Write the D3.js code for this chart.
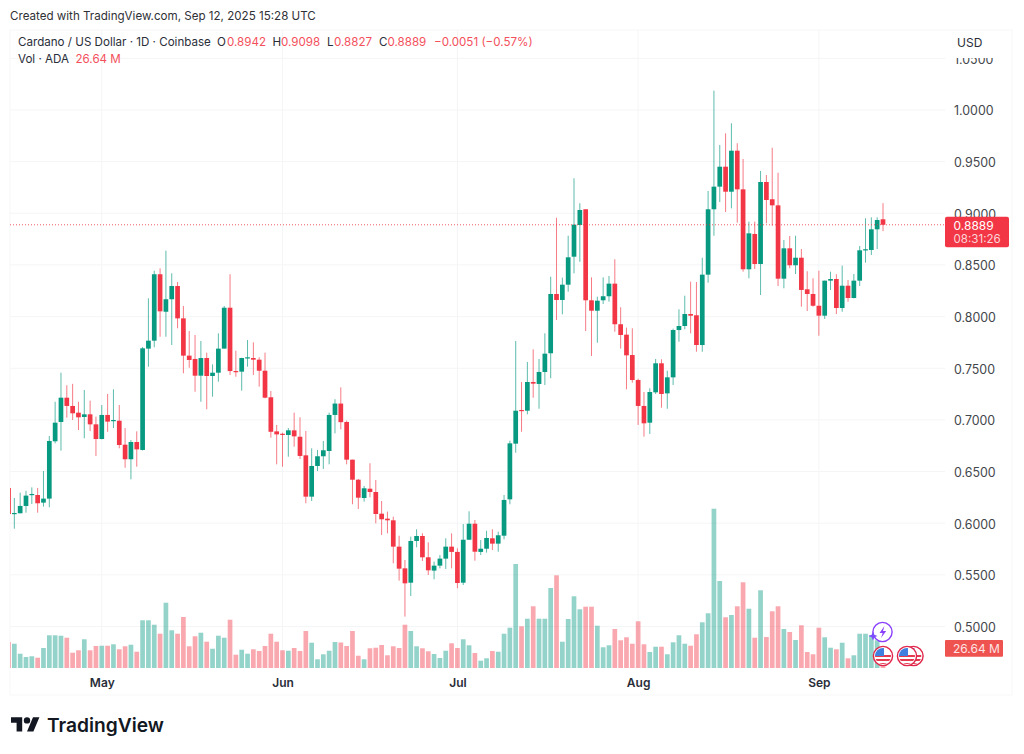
<!DOCTYPE html>
<html><head><meta charset="utf-8">
<script src="https://cdn.jsdelivr.net/npm/d3@7"></script>
<style>html,body{margin:0;padding:0;background:#fff}svg{display:block}text{font-family:Inter,"Noto Sans",sans-serif}</style>
</head><body><svg id="c" width="1024" height="754"></svg>
<script>
const opens=[.6341,.6089,.6096,.6167,.6273,.6273,.6199,.6238,.6793,.6980,.7215,.7135,.7070,.7028,.7054,.6957,.6815,.7048,.6989,.6992,.6760,.6619,.6786,.6709,.7690,.7767,.8410,.8047,.8168,.8296,.7983,.7622,.7590,.7428,.7599,.7425,.7457,.7690,.8086,.7473,.7467,.7596,.7599,.7583,.7476,.7219,.6889,.6866,.6854,.6899,.6837,.6657,.6257,.6554,.6648,.6699,.7048,.7158,.6980,.6615,.6421,.6244,.6334,.6302,.6092,.6044,.6028,.5773,.5563,.5424,.5828,.5876,.5670,.5541,.5589,.5657,.5773,.5722,.5424,.5840,.5995,.5722,.5753,.5854,.5802,.5879,.6231,.6770,.7096,.7089,.7367,.7348,.7464,.7645,.8219,.8161,.8309,.8580,.8887,.9039,.8158,.8057,.8158,.8197,.8319,.7926,.7825,.7628,.7386,.7135,.6973,.7267,.7548,.7257,.7412,.7870,.7909,.8025,.8013,.7725,.8406,.9039,.9258,.9451,.9209,.9606,.9232,.8458,.8800,.8509,.9303,.9136,.9077,.8367,.8661,.8497,.8570,.8264,.8219,.8105,.8009,.8348,.8364,.8083,.8299,.8180,.8348,.8642,.8645,.8845,.8942];
const highs=[.6350,.6244,.6295,.6314,.6347,.6341,.6505,.6844,.7176,.7457,.7335,.7349,.7176,.7289,.7186,.7031,.7144,.7251,.7296,.7144,.6921,.6805,.6889,.7706,.8177,.8444,.8467,.8638,.8419,.8335,.8103,.7860,.7822,.7764,.7651,.7538,.7838,.8103,.8410,.7670,.7602,.7773,.7751,.7606,.7651,.7280,.6951,.6876,.6921,.7070,.7025,.6892,.6725,.6709,.6796,.7070,.7200,.7315,.6993,.6615,.6428,.6360,.6580,.6418,.6215,.6112,.6063,.5879,.5644,.5870,.5941,.5902,.5815,.5628,.5692,.5854,.5902,.5757,.5992,.6115,.6031,.5837,.5927,.5941,.5918,.6273,.6799,.7764,.7367,.7561,.7683,.7590,.7838,.8386,.8957,.8377,.8783,.9339,.9097,.9039,.8380,.8193,.8380,.8393,.8555,.8090,.7893,.7887,.7399,.7270,.7306,.7590,.7587,.7476,.7883,.8071,.8202,.8338,.8335,.8570,.9216,1.0187,.9661,.9774,.9871,.9678,.9526,.8919,.8919,.9410,.9371,.9635,.9393,.8742,.8780,.8783,.8654,.8439,.8371,.8444,.8348,.8435,.8410,.8493,.8354,.8412,.8683,.8952,.8961,.8961,.9098];
const lows=[.6089,.5947,.6096,.6102,.6186,.6102,.6160,.6154,.6773,.6702,.7021,.6999,.6902,.6822,.6892,.6651,.6812,.6885,.6921,.6725,.6537,.6425,.6547,.6704,.7515,.7703,.7805,.7805,.7725,.7887,.7451,.7505,.7273,.7176,.7103,.7225,.7370,.7690,.7435,.7418,.7283,.7515,.7435,.7322,.7209,.6828,.6570,.6547,.6644,.6741,.6622,.6193,.6215,.6505,.6525,.6570,.6870,.6909,.6570,.6183,.6138,.6209,.6251,.5999,.5886,.5902,.5612,.5444,.5096,.5295,.5767,.5634,.5499,.5457,.5563,.5557,.5563,.5370,.5402,.5837,.5637,.5692,.5715,.5741,.5724,.5844,.6183,.6682,.6885,.7054,.7215,.7108,.7338,.7403,.7967,.8022,.8241,.8419,.8531,.7860,.7619,.7747,.8122,.8144,.7854,.7690,.7296,.7360,.6951,.6838,.6864,.7251,.7118,.7108,.7338,.7757,.7877,.7838,.7660,.7660,.8328,.8783,.9109,.9013,.9048,.8909,.8435,.8371,.8461,.8209,.8903,.8880,.8296,.8274,.8468,.8412,.8096,.8054,.8096,.7815,.7977,.8258,.8025,.8047,.8144,.8177,.8296,.8522,.8596,.8654,.8827];
const closes=[.6089,.6099,.6167,.6267,.6283,.6193,.6238,.6796,.6973,.7215,.7135,.7064,.7025,.7054,.6957,.6815,.7048,.6983,.6999,.6757,.6619,.6786,.6715,.7693,.7767,.8410,.8051,.8168,.8296,.7983,.7622,.7580,.7428,.7599,.7425,.7457,.7690,.8086,.7473,.7467,.7599,.7606,.7583,.7476,.7215,.6885,.6860,.6860,.6899,.6841,.6651,.6257,.6554,.6648,.6706,.7048,.7158,.6978,.6615,.6421,.6247,.6338,.6302,.6089,.6038,.6028,.5773,.5560,.5418,.5828,.5876,.5670,.5544,.5589,.5657,.5773,.5722,.5421,.5840,.5995,.5724,.5753,.5857,.5802,.5883,.6225,.6773,.7089,.7089,.7367,.7351,.7464,.7641,.8219,.8161,.8309,.8574,.8890,.9032,.8158,.8057,.8154,.8197,.8319,.7926,.7822,.7625,.7386,.7135,.6967,.7270,.7548,.7251,.7412,.7870,.7909,.8025,.8009,.7725,.8406,.9039,.9258,.9451,.9209,.9606,.9232,.8458,.8806,.8509,.9303,.9129,.9077,.8367,.8661,.8497,.8570,.8258,.8219,.8105,.8009,.8348,.8364,.8083,.8299,.8180,.8348,.8642,.8652,.8845,.8935,.8889];
const volumes=[36.4,34,20,15.4,16.4,14.4,28,45.8,45.8,45.2,42.4,21.4,24.8,40.2,24.8,30.8,31.2,31.2,33.2,26.2,30.4,32.6,22.8,66.8,66.8,60.6,48,91.4,52.8,48,71.4,30.4,44.4,49.4,36.8,27,45.2,42.4,67.6,18.6,25.6,20,26.2,23.8,30.8,48,36.8,24.8,24.2,28,23.8,51.8,35.4,12.2,19.2,24.2,36.4,35.7,30.8,51.8,17.2,12.2,27.6,28.4,32.2,17.8,30.4,28,60.6,51.8,30.4,27.6,23.4,19.6,14,24.2,34.6,28,40.2,31.8,21,10.2,13.6,23.8,22.8,48,56.4,145.6,58.4,69,86.4,69,69,112,129.8,36.8,68.6,100.4,82.2,85.8,85.8,59.2,29,31.8,54.6,38.8,43,34,65.4,33.2,22.4,29.8,29.8,19.2,36,45.8,34,31.2,47.2,64,76.6,223,121.8,71,74.2,86.4,120,83,42.4,108.8,43.4,79.4,86.4,54.6,50.4,39.2,59.8,22.4,19.2,56.4,43,28.4,26.2,35.4,13.6,17.8,48,48,45.8,38.8,26.64];
const priceTicks=[0.5,0.55,0.6,0.65,0.7,0.75,0.8,0.85,0.9,0.95,1.0,1.05];
const monthIndex=[16,47,77,108,139];
const monthLabels=["May","Jun","Jul","Aug","Sep"];
const headerTitle="Cardano / US Dollar · 1D · Coinbase";
const lastPrice=0.8889, lastVolume=26.64;

const GREEN="#089981",RED="#F23645";
const svg=d3.select("#c");
const x=d3.scaleLinear().domain([0,150]).range([8.5,883]);
const y=d3.scaleLinear().domain([0.5,1.0]).range([626.5,110]);
const yv=d3.scaleLinear().domain([0,224]).range([668,508]);
const L=10,R=945,T=30,B=695,FR=1012;
const bw=4.7;
const idx=d3.range(opens.length);
const up=i=>closes[i]>=opens[i];
const col=i=>up(i)?GREEN:RED;

svg.append("defs").append("clipPath").attr("id","pane").append("rect").attr("x",L).attr("y",T).attr("width",R-L).attr("height",B-T);
// frame
svg.append("rect").attr("x",L).attr("y",T).attr("width",FR-L).attr("height",B-T).attr("fill","#fff").attr("stroke","#f7f7f9");
// grid
const grid=svg.append("g").attr("stroke","#f4f5f7").attr("stroke-width",1);
grid.selectAll("line.h").data(priceTicks).join("line").attr("class","h").attr("x1",L).attr("x2",R).attr("y1",d=>y(d)).attr("y2",d=>y(d));
grid.selectAll("line.v").data(monthIndex).join("line").attr("class","v").attr("y1",T).attr("y2",669).attr("x1",d=>x(d)).attr("x2",d=>x(d));

const pane=svg.append("g").attr("clip-path","url(#pane)");
pane.append("g").selectAll("rect").data(idx).join("rect")
 .attr("x",i=>x(i)-bw/2).attr("width",bw).attr("y",i=>yv(volumes[i])).attr("height",i=>668-yv(volumes[i]))
 .attr("fill",col).attr("opacity",.43);
pane.append("g").selectAll("line").data(idx).join("line")
 .attr("x1",i=>x(i)).attr("x2",i=>x(i)).attr("y1",i=>y(highs[i])).attr("y2",i=>y(lows[i]))
 .attr("stroke",col).attr("stroke-width",1).attr("opacity",.65);
pane.append("g").selectAll("rect").data(idx).join("rect")
 .attr("x",i=>x(i)-bw/2).attr("width",bw)
 .attr("y",i=>y(Math.max(opens[i],closes[i])))
 .attr("height",i=>Math.max(1.2,Math.abs(y(opens[i])-y(closes[i]))))
 .attr("fill",col);
// last price line
svg.append("line").attr("x1",L).attr("x2",R).attr("y1",y(lastPrice)).attr("y2",y(lastPrice))
 .attr("stroke",RED).attr("stroke-width",1).attr("stroke-dasharray","1 2").attr("opacity",.8);

// price axis
const axR=d3.axisRight(y).tickValues(priceTicks).tickFormat(d3.format(".4f")).tickSize(0).tickPadding(0);
const gy=svg.append("g").attr("transform","translate(954,1)").call(axR);
gy.select(".domain").remove();
gy.selectAll("text").attr("font-size",12.4).attr("fill","#43464b").attr("font-family","Inter").attr("x",0);
// covering box for clipped top label + USD
svg.append("rect").attr("x",946).attr("y",31).attr("width",64).attr("height",27).attr("fill","#fff");
svg.append("text").attr("x",957).attr("y",47).attr("font-size",12).attr("fill","#2a2e39").text("USD");

// time axis
const axB=d3.axisBottom(x).tickValues(monthIndex).tickFormat((d,i)=>monthLabels[i]).tickSize(0).tickPadding(0);
const gx=svg.append("g").attr("transform","translate(0,678)").call(axB);
gx.select(".domain").remove();
gx.selectAll("text").attr("font-size",12).attr("font-weight",600).attr("fill","#2a2e39").attr("font-family","Inter");

// titles
svg.append("text").attr("x",10).attr("y",20).attr("font-size",11.6).attr("fill","#2f3136").text("Created with TradingView.com, Sep 12, 2025 15:28 UTC");
const hdr=svg.append("g").attr("font-size",11.6);
hdr.append("text").attr("x",18).attr("y",46).attr("fill","#2a2e39").text(headerTitle);
[["O",217,"0.8942",227],["H",272.5,"0.9098",281],["L",327,"0.8827",334],["C",379,"0.8889",387.5]].forEach(r=>{
 hdr.append("text").attr("x",r[1]).attr("y",46).attr("fill","#2a2e39").text(r[0]);
 hdr.append("text").attr("x",r[3]).attr("y",46).attr("fill","#f4505c").text(r[2]);
});
hdr.append("text").attr("x",434).attr("y",46).attr("fill","#f4505c").text("−0.0051 (−0.57%)");
hdr.append("text").attr("x",18).attr("y",63).attr("fill","#2a2e39").text("Vol · ADA");
hdr.append("text").attr("x",75.5).attr("y",63).attr("fill","#f4505c").text("26.64 M");

// price tag
svg.append("rect").attr("x",945).attr("y",y(lastPrice)-8).attr("width",64).attr("height",30.5).attr("rx",2).attr("fill",RED);
svg.append("text").attr("x",953.5).attr("y",y(lastPrice)+5).attr("font-size",12).attr("fill","#fff").text("0.8889");
svg.append("text").attr("x",953.5).attr("y",y(lastPrice)+18).attr("font-size",11.6).attr("fill","#fbd5d8").text("08:31:26");
// volume tag
svg.append("rect").attr("x",945).attr("y",yv(lastVolume)-9).attr("width",58).attr("height",16.7).attr("rx",1).attr("fill","#ef5350");
svg.append("text").attr("x",953).attr("y",yv(lastVolume)+4).attr("font-size",12).attr("fill","#fde3e3").text("26.64 M");

// event icons
function flag(cx,cy){
 const id="f"+cx;
 svg.append("clipPath").attr("id",id).append("circle").attr("cx",cx).attr("cy",cy).attr("r",8);
 const g=svg.append("g");
 g.append("circle").attr("cx",cx).attr("cy",cy).attr("r",9.6).attr("fill","#fff").attr("stroke","#e0264a").attr("stroke-width",1.4);
 const f=g.append("g").attr("clip-path",`url(#${id})`);
 f.append("rect").attr("x",cx-8).attr("y",cy-8).attr("width",16).attr("height",16).attr("fill","#fff");
 [-1,3,7].forEach(d=>f.append("rect").attr("x",cx-8).attr("y",cy+d).attr("width",16).attr("height",2).attr("fill","#e53950"));
 f.append("rect").attr("x",cx-8).attr("y",cy-8).attr("width",9).attr("height",8).attr("fill","#3f7fe0");
}
flag(913.5,656);flag(907,656);flag(883,656);
svg.append("circle").attr("cx",882.5).attr("cy",632).attr("r",9.6).attr("fill","#fff").attr("stroke","#8a3ffc").attr("stroke-width",1.4);
svg.append("path").attr("d","M884.5 626l-5 7h3.2l-1.7 5 5.2-7h-3.2z").attr("fill","#8a3ffc");
svg.append("path").attr("d","M873 631.5l1.3 3.2 3.2 1.3-3.2 1.3-1.3 3.2-1.3-3.2-3.2-1.3 3.2-1.3z").attr("fill","#7c4dff");

// logo
const logo=svg.append("g").attr("transform","translate(11,714) scale(.8)").attr("fill","#131722");
logo.append("path").attr("d","M14 22H7V11H0V4h14v18zM28 22h-8l7.5-18h8L28 22z");
logo.append("circle").attr("cx",20).attr("cy",8).attr("r",4);
svg.append("text").attr("x",47).attr("y",732).attr("font-size",19.2).attr("font-weight",600).attr("fill","#131722").text("TradingView");
</script></body></html>
